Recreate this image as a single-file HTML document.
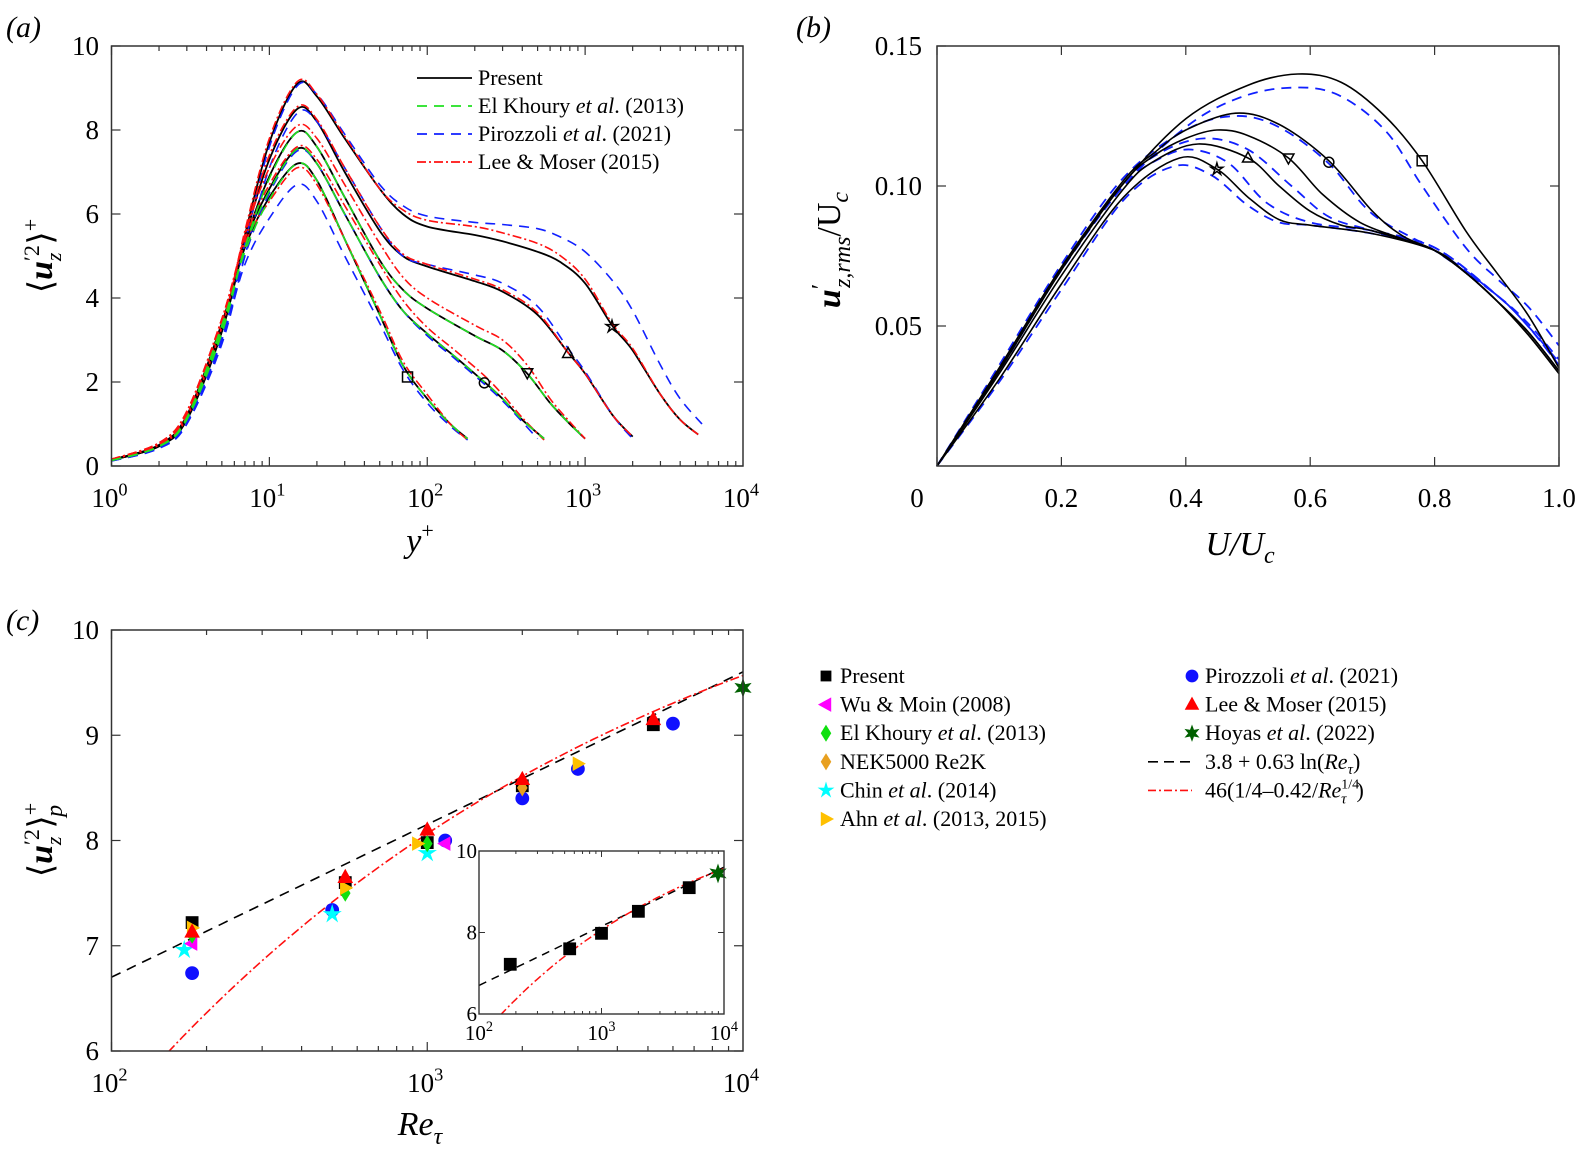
<!DOCTYPE html>
<html><head><meta charset="utf-8"><style>
html,body{margin:0;padding:0;background:#fff;}
svg{display:block;font-family:"Liberation Serif",serif;}
</style></head><body>
<svg id="fig" width="1581" height="1155" viewBox="0 0 1581 1155" xmlns="http://www.w3.org/2000/svg">
<g id="pa"></g>
<g id="pb"></g>
<g id="pc"></g>
<g id="leg"></g>
</svg>
<script>
// ---------------- Panel (a) data ----------------
const aInnerX = [1,2,3,5,7,10,15,20,30,50,70,100];
const aP180 = [0.15,0.5,1.2,3.4,5.2,6.4,7.2,6.8,5.4,3.6,2.4,1.6];
const aP180oX = [140,180], aP180oY = [1.0,0.65];
const aP550 = [0.15,0.5,1.2,3.3,5.3,6.6,7.55,7.2,6.0,4.5,3.7,3.15];
const aP550oX = [150,230,300,400,550], aP550oY = [2.6,2.0,1.6,1.1,0.65];
const aP1000 = [0.14,0.48,1.15,3.2,5.3,6.9,7.95,7.6,6.4,4.9,4.2,3.75];
const aP1000oX = [200,300,430,600,800,1000], aP1000oY = [3.1,2.75,2.2,1.5,1.0,0.65];
const aP2000 = [0.14,0.47,1.1,3.2,5.4,7.3,8.5,8.2,7.0,5.6,5.0,4.75];
const aP2000oX = [200,300,500,780,1000,1500,2000], aP2000oY = [4.4,4.15,3.6,2.7,2.2,1.2,0.7];
const aP5200 = [0.14,0.47,1.1,3.2,5.5,7.7,9.1,8.8,7.8,6.6,6.0,5.7];
const aP5200oX = [200,300,500,700,1000,1480,2000,3000,4000,5200], aP5200oY = [5.5,5.35,5.1,4.85,4.35,3.35,2.75,1.7,1.1,0.75];

const aR180 = [0.16,0.55,1.3,3.5,5.3,6.3,7.1,6.7,5.4,3.7,2.5,1.7];
const aR180oX = [140,180], aR180oY = [1.0,0.62];
const aR550 = [0.16,0.55,1.3,3.5,5.4,6.7,7.6,7.3,6.2,4.8,3.95,3.3];
const aR550oX = [150,230,300,400,550], aR550oY = [2.75,2.15,1.7,1.15,0.62];
const aR1000 = [0.16,0.55,1.25,3.4,5.5,7.1,8.1,7.8,6.7,5.3,4.5,4.0];
const aR1000oX = [200,300,430,600,800,1000], aR1000oY = [3.35,3.0,2.4,1.6,1.05,0.65];
const aR2000 = [0.15,0.52,1.2,3.3,5.5,7.4,8.55,8.25,7.1,5.7,5.05,4.8];
const aR2000oX = [200,300,500,780,1000,1500,2000], aR2000oY = [4.45,4.2,3.65,2.7,2.2,1.2,0.7];
const aR5200 = [0.15,0.5,1.15,3.3,5.6,7.8,9.15,8.85,7.85,6.6,6.1,5.85];
const aR5200oX = [200,300,500,700,1000,1480,2000,3000,4000,5200], aR5200oY = [5.7,5.55,5.3,5.0,4.45,3.4,2.8,1.7,1.1,0.75];

const aB180 = [0.13,0.45,1.05,3.0,4.8,5.9,6.7,6.3,5.0,3.4,2.3,1.5];
const aB180oX = [140,180], aB180oY = [0.95,0.62];
const aB500 = [0.13,0.45,1.05,3.1,5.0,6.5,7.5,7.2,6.0,4.5,3.7,3.1];
const aB500oX = [150,230,300,400,500], aB500oY = [2.55,1.95,1.55,1.05,0.65];
const aB2000 = [0.12,0.42,1.0,2.9,5.0,7.1,8.4,8.2,7.1,5.7,5.0,4.8];
const aB2000oX = [200,300,500,780,1000,1500,2000], aB2000oY = [4.55,4.35,3.8,2.8,2.25,1.2,0.65];
const aB6000 = [0.12,0.42,1.0,3.0,5.3,7.6,9.05,8.85,7.9,6.7,6.2,5.95];
const aB6000oX = [200,300,500,700,1000,1500,2000,3000,4000,5500], aB6000oY = [5.8,5.75,5.65,5.45,5.1,4.4,3.7,2.4,1.6,1.0];

const aG180 = [0.13,0.47,1.15,3.35,5.1,6.35,7.2,6.8,5.4,3.6,2.4,1.6];
const aG550 = [0.13,0.47,1.15,3.25,5.2,6.55,7.55,7.2,6.0,4.5,3.7,3.15];
const aG1000 = [0.13,0.46,1.1,3.15,5.2,6.85,7.95,7.6,6.4,4.9,4.2,3.75];

const aMarkX = [75,230,430,780,1480];
const aMarkY = [2.12,1.98,2.22,2.68,3.32];
const aMarkType = ['square','circle','tridown','triup','star'];
const aXTicks = [1,10,100,1000,10000];
const aYTicks = [0,2,4,6,8,10];

// ---------------- Panel (b) data ----------------
const bK180x = [0,0.1,0.2,0.3,0.4,0.5,0.58,0.65,0.72,0.78,0.85,0.9,0.95,1.0];
const bK180y = [0,0.035,0.071,0.101,0.124,0.136,0.140,0.137,0.125,0.109,0.084,0.069,0.054,0.035];
const bK550x = [0,0.1,0.2,0.3,0.35,0.4,0.48,0.55,0.63,0.7,0.75,0.8,0.85,0.9,0.95,1.0];
const bK550y = [0,0.035,0.071,0.102,0.112,0.120,0.126,0.122,0.109,0.091,0.082,0.077,0.069,0.059,0.048,0.034];
const bK1000x = [0,0.1,0.2,0.3,0.35,0.4,0.45,0.5,0.565,0.62,0.68,0.75,0.8,0.85,0.9,0.95,1.0];
const bK1000y = [0,0.034,0.070,0.101,0.111,0.117,0.120,0.118,0.110,0.097,0.087,0.081,0.077,0.069,0.059,0.048,0.034];
const bK2000x = [0,0.1,0.2,0.3,0.35,0.42,0.5,0.55,0.6,0.65,0.7,0.8,0.85,0.9,0.95,1.0];
const bK2000y = [0,0.033,0.068,0.099,0.109,0.115,0.110,0.100,0.091,0.086,0.084,0.077,0.069,0.059,0.047,0.033];
const bK5200x = [0,0.1,0.2,0.3,0.39,0.45,0.5,0.55,0.6,0.7,0.8,0.85,0.9,0.95,1.0];
const bK5200y = [0,0.031,0.065,0.096,0.110,0.106,0.096,0.088,0.086,0.083,0.077,0.069,0.059,0.047,0.033];

const bB180x = [0,0.1,0.2,0.3,0.4,0.48,0.56,0.64,0.72,0.78,0.85,0.9,0.95,1.0];
const bB180y = [0,0.034,0.070,0.100,0.121,0.131,0.135,0.133,0.120,0.100,0.078,0.067,0.057,0.043];
const bB550x = [0,0.1,0.2,0.3,0.4,0.48,0.55,0.63,0.7,0.8,0.9,0.95,1.0];
const bB550y = [0,0.036,0.072,0.103,0.120,0.125,0.121,0.108,0.090,0.077,0.061,0.051,0.038];
const bB1000x = [0,0.1,0.2,0.3,0.36,0.43,0.5,0.57,0.63,0.7,0.8,0.9,0.95,1.0];
const bB1000y = [0,0.035,0.071,0.101,0.112,0.117,0.113,0.100,0.089,0.084,0.077,0.061,0.050,0.037];
const bB2000x = [0,0.1,0.2,0.3,0.36,0.41,0.47,0.53,0.6,0.7,0.8,0.9,0.95,1.0];
const bB2000y = [0,0.034,0.070,0.100,0.110,0.113,0.108,0.094,0.087,0.084,0.078,0.061,0.050,0.036];
const bB6000x = [0,0.1,0.2,0.3,0.38,0.44,0.5,0.55,0.6,0.7,0.8,0.9,0.95,1.0];
const bB6000y = [0,0.030,0.063,0.095,0.107,0.104,0.093,0.087,0.086,0.083,0.078,0.061,0.050,0.036];

const bMarkX = [0.78,0.63,0.565,0.50,0.45];
const bMarkY = [0.109,0.1085,0.110,0.110,0.106];
const bXTicks = [0,0.2,0.4,0.6,0.8,1.0];
const bXLabels = ['0','0.2','0.4','0.6','0.8','1.0'];
const bYTicks = [0.05,0.10,0.15];
const bYLabels = ['0.05','0.10','0.15'];

// ---------------- Panel (c) data ----------------
const cPresentX = [180,550,1000,2000,5200];
const cPresentY = [7.22,7.6,7.98,8.52,9.1];
const cWuX = [180,1140], cWuY = [7.02,7.97];
const cElkX = [180,550,1000], cElkY = [7.1,7.5,7.97];
const cNekX = [2000], cNekY = [8.5];
const cChinX = [170,500,1000], cChinY = [6.96,7.3,7.88];
const cAhnX = [180,550,930,3000], cAhnY = [7.17,7.55,7.97,8.73];
const cPirX = [180,500,1140,2000,3000,6000], cPirY = [6.74,7.34,8.0,8.4,8.68,9.11];
const cLeeX = [180,550,1000,2000,5200], cLeeY = [7.13,7.65,8.1,8.58,9.15];
const cHoyX = [10000], cHoyY = [9.45];
const cLogFit = [3.8,0.63];          // a + b ln(Re)
const cPowFit = [46,0.25,0.42,0.25]; // A(c - d/Re^e)
const cXTicks = [100,1000,10000];
const cYTicks = [6,7,8,9,10];
const cInsetYTicks = [6,8,10];

// ---------------- helpers ----------------
const NS='http://www.w3.org/2000/svg';
function el(parent,tag,attrs){const e=document.createElementNS(NS,tag);for(const k in attrs)e.setAttribute(k,attrs[k]);parent.appendChild(e);return e;}
function smoothPath(pts){
  if(pts.length<2)return '';
  let d='M'+pts[0][0].toFixed(1)+' '+pts[0][1].toFixed(1);
  for(let i=0;i<pts.length-1;i++){
    const p0=pts[i-1]||pts[i],p1=pts[i],p2=pts[i+1],p3=pts[i+2]||p2;
    const c1=[p1[0]+(p2[0]-p0[0])/6,p1[1]+(p2[1]-p0[1])/6];
    const c2=[p2[0]-(p3[0]-p1[0])/6,p2[1]-(p3[1]-p1[1])/6];
    d+=' C'+c1[0].toFixed(1)+' '+c1[1].toFixed(1)+' '+c2[0].toFixed(1)+' '+c2[1].toFixed(1)+' '+p2[0].toFixed(1)+' '+p2[1].toFixed(1);
  }
  return d;
}
function marker(g,type,x,y,s,fill,stroke){
  let e;
  if(type==='square'){e=el(g,'rect',{x:x-s,y:y-s,width:2*s,height:2*s});}
  else if(type==='circle'){e=el(g,'circle',{cx:x,cy:y,r:s});}
  else if(type==='triup'){e=el(g,'polygon',{points:`${x},${y-s*1.2} ${x-s*1.1},${y+s*0.8} ${x+s*1.1},${y+s*0.8}`});}
  else if(type==='tridown'){e=el(g,'polygon',{points:`${x},${y+s*1.2} ${x-s*1.1},${y-s*0.8} ${x+s*1.1},${y-s*0.8}`});}
  else if(type==='trileft'){e=el(g,'polygon',{points:`${x-s*1.2},${y} ${x+s*0.8},${y-s*1.1} ${x+s*0.8},${y+s*1.1}`});}
  else if(type==='triright'){e=el(g,'polygon',{points:`${x+s*1.2},${y} ${x-s*0.8},${y-s*1.1} ${x-s*0.8},${y+s*1.1}`});}
  else if(type==='diamond'){e=el(g,'polygon',{points:`${x},${y-s*1.3} ${x+s*0.8},${y} ${x},${y+s*1.3} ${x-s*0.8},${y}`});}
  else if(type==='star'||type==='hexstar'){
    const n=type==='star'?5:6,pts=[];
    for(let i=0;i<2*n;i++){const r=i%2?s*(n===5?0.45:0.55):s*1.25;const a=-Math.PI/2+i*Math.PI/n;pts.push((x+r*Math.cos(a)).toFixed(1)+','+(y+r*Math.sin(a)).toFixed(1));}
    e=el(g,'polygon',{points:pts.join(' ')});
  }
  e.setAttribute('fill',fill);e.setAttribute('stroke',stroke);e.setAttribute('stroke-width',fill==='none'?1.5:0.8);
  return e;
}
function txt(g,x,y,s,size,anchor,style){const t=el(g,'text',{x:x,y:y,'font-size':size,'text-anchor':anchor||'middle'});if(style)t.setAttribute('font-style',style);t.textContent=s;return t;}
function pow10(g,x,y,exp,size,name){
  const t=el(g,'text',{x:x,y:y,'font-size':size,'text-anchor':'middle'});
  
  
  const a=el(t,'tspan',{});a.textContent='10';
  const b=el(t,'tspan',{dy:-size*0.42,'font-size':size*0.68});b.textContent=exp;
}

// ================= Panel (a) =================
(function(){
  const g=document.getElementById('pa');
  const L=111.5,R=743,T=46,B=466;
  const X=v=>L+(Math.log10(v))*(R-L)/4;
  const Y=v=>B-v*(B-T)/10;
  const clip=el(g,'clipPath',{id:'clipA'});el(clip,'rect',{x:L,y:T,width:R-L,height:B-T});
  const curves=el(g,'g',{'clip-path':'url(#clipA)'});
  function draw(inner,ox,oy,col,dash,name,w){
    const pts=[];
    aInnerX.forEach((x,i)=>pts.push([X(x),Y(inner[i])]));
    ox.forEach((x,i)=>pts.push([X(x),Y(oy[i])]));
    const p=el(curves,'path',{d:smoothPath(pts),fill:'none',stroke:col,'stroke-width':w||1.8});
    if(dash)p.setAttribute('stroke-dasharray',dash);
    
    
  }
  draw(aP180,aP180oX,aP180oY,'#000','','present-re180',1.8);
  draw(aP550,aP550oX,aP550oY,'#000','','present-re550',1.8);
  draw(aP1000,aP1000oX,aP1000oY,'#000','','present-re1000',1.8);
  draw(aP2000,aP2000oX,aP2000oY,'#000','','present-re2000',1.8);
  draw(aP5200,aP5200oX,aP5200oY,'#000','','present-re5200',1.8);
  draw(aB180,aB180oX,aB180oY,'#1020ff','10,7','pirozzoli-re180',1.6);
  draw(aB500,aB500oX,aB500oY,'#1020ff','10,7','pirozzoli-re500',1.6);
  draw(aB2000,aB2000oX,aB2000oY,'#1020ff','10,7','pirozzoli-re2000',1.6);
  draw(aB6000,aB6000oX,aB6000oY,'#1020ff','10,7','pirozzoli-re6000',1.6);
  draw(aR180,aR180oX,aR180oY,'#ff1010','9,3,2,3','lee-moser-re180',1.6);
  draw(aR550,aR550oX,aR550oY,'#ff1010','9,3,2,3','lee-moser-re550',1.6);
  draw(aR1000,aR1000oX,aR1000oY,'#ff1010','9,3,2,3','lee-moser-re1000',1.6);
  draw(aR2000,aR2000oX,aR2000oY,'#ff1010','9,3,2,3','lee-moser-re2000',1.6);
  draw(aR5200,aR5200oX,aR5200oY,'#ff1010','9,3,2,3','lee-moser-re5200',1.6);
  draw(aG180,aP180oX,aP180oY,'#20e020','10,7','el-khoury-re180',1.6);
  draw(aG550,aP550oX,aP550oY,'#20e020','10,7','el-khoury-re550',1.6);
  draw(aG1000,aP1000oX,aP1000oY,'#20e020','10,7','el-khoury-re1000',1.6);
  aMarkX.forEach((x,i)=>{
    const m=marker(g,aMarkType[i],X(x),Y(aMarkY[i]),5,'none','#000');
    
    
  });
  // axes box
  const box=el(g,'rect',{x:L,y:T,width:R-L,height:B-T,fill:'none',stroke:'#333','stroke-width':1.5});
  
  
  // ticks
  for(let d=0;d<4;d++){for(let k=1;k<=9;k++){const v=Math.pow(10,d)*k;const x=X(v);const len=k===1?9:5;
    el(g,'line',{x1:x,y1:B,x2:x,y2:B-len,stroke:'#333','stroke-width':1.2});
    el(g,'line',{x1:x,y1:T,x2:x,y2:T+len,stroke:'#333','stroke-width':1.2});}}
  aXTicks.forEach((v,i)=>pow10(g,X(v)-2,507,String(i),27,'x-tick-label-a'));
  aYTicks.forEach(v=>{const y=Y(v);
    el(g,'line',{x1:L,y1:y,x2:L+9,y2:y,stroke:'#333','stroke-width':1.2});
    el(g,'line',{x1:R,y1:y,x2:R-9,y2:y,stroke:'#333','stroke-width':1.2});
    const t=txt(g,99,y+9,String(v),27,'end');
    
    });
  // axis labels
  const xl=el(g,'text',{x:420,y:552,'font-size':34,'text-anchor':'middle','font-style':'italic'});
  
  
  el(xl,'tspan',{}).textContent='y';
  el(xl,'tspan',{dy:-14,'font-size':22,'font-style':'normal'}).textContent='+';
  const yl=el(g,'text',{x:0,y:0,'font-size':34,'text-anchor':'middle',transform:'translate(52,256) rotate(-90)'});
  
  
  el(yl,'tspan',{}).textContent='⟨';
  el(yl,'tspan',{'font-style':'italic','font-weight':'bold'}).textContent='u';
  el(yl,'tspan',{dy:-13,'font-size':22}).textContent='′2';
  el(yl,'tspan',{dx:-16,dy:22,'font-size':22,'font-style':'italic'}).textContent='z';
  el(yl,'tspan',{dx:8,dy:-9}).textContent='⟩';
  el(yl,'tspan',{dy:-14,'font-size':22}).textContent='+';
  const pl=txt(g,6,37,'(a)',30,'start','italic');
  
  
  // legend
  const lg=el(g,'g',{});
  
  
  const entries=[['Present','#000',''],['El Khoury et al. (2013)','#20e020','10,7'],['Pirozzoli et al. (2021)','#1020ff','10,7'],['Lee & Moser (2015)','#ff1010','9,3,2,3']];
  entries.forEach((e,i)=>{const y=78+i*28;
    const ln=el(lg,'line',{x1:417,y1:y,x2:472,y2:y,stroke:e[1],'stroke-width':1.8});
    if(e[2])ln.setAttribute('stroke-dasharray',e[2]);
    const t=el(lg,'text',{x:478,y:y+7,'font-size':22});
    
    
    const m=e[0].match(/^(.*?)(et al\.)(.*)$/);
    if(m){el(t,'tspan',{}).textContent=m[1];el(t,'tspan',{'font-style':'italic'}).textContent='et al';el(t,'tspan',{}).textContent='.'+m[3];}
    else t.textContent=e[0];
  });
})();

// ================= Panel (b) =================
(function(){
  const g=document.getElementById('pb');
  const L=937,R=1559,T=46,B=466;
  const X=v=>L+v*(R-L);
  const Y=v=>B-v*(B-T)/0.15;
  function draw(xs,ys,col,dash,name){
    const pts=xs.map((x,i)=>[X(x),Y(ys[i])]);
    const p=el(g,'path',{d:smoothPath(pts),fill:'none',stroke:col,'stroke-width':col==='#000'?1.6:1.8});
    if(dash)p.setAttribute('stroke-dasharray',dash);
    
    
  }
  draw(bB180x,bB180y,'#1020ff','10,7','pirozzoli-b-re180');
  draw(bB550x,bB550y,'#1020ff','10,7','pirozzoli-b-re550');
  draw(bB1000x,bB1000y,'#1020ff','10,7','pirozzoli-b-re1000');
  draw(bB2000x,bB2000y,'#1020ff','10,7','pirozzoli-b-re2000');
  draw(bB6000x,bB6000y,'#1020ff','10,7','pirozzoli-b-re6000');
  draw(bK180x,bK180y,'#000','','present-b-re180');
  draw(bK550x,bK550y,'#000','','present-b-re550');
  draw(bK1000x,bK1000y,'#000','','present-b-re1000');
  draw(bK2000x,bK2000y,'#000','','present-b-re2000');
  draw(bK5200x,bK5200y,'#000','','present-b-re5200');
  bMarkX.forEach((x,i)=>{
    const m=marker(g,aMarkType[i],X(x),Y(bMarkY[i]),5,'none','#000');
    
    
  });
  const box=el(g,'rect',{x:L,y:T,width:R-L,height:B-T,fill:'none',stroke:'#333','stroke-width':1.5});
  
  
  bXTicks.forEach((v,i)=>{const x=X(v);
    el(g,'line',{x1:x,y1:B,x2:x,y2:B-9,stroke:'#333','stroke-width':1.2});
    el(g,'line',{x1:x,y1:T,x2:x,y2:T+9,stroke:'#333','stroke-width':1.2});
    const t=txt(g,i===0?x-20:x,507,bXLabels[i],27,'middle');
    
    });
  bYTicks.forEach((v,i)=>{const y=Y(v);
    el(g,'line',{x1:L,y1:y,x2:L+9,y2:y,stroke:'#333','stroke-width':1.2});
    el(g,'line',{x1:R,y1:y,x2:R-9,y2:y,stroke:'#333','stroke-width':1.2});
    const t=txt(g,922,y+9,bYLabels[i],27,'end');
    
    });
  const xl=el(g,'text',{x:1240,y:555,'font-size':34,'text-anchor':'middle','font-style':'italic'});
  
  
  el(xl,'tspan',{}).textContent='U/U';
  el(xl,'tspan',{dy:8,'font-size':24}).textContent='c';
  const yl=el(g,'text',{x:0,y:0,'font-size':34,'text-anchor':'middle','font-style':'italic',transform:'translate(840,250) rotate(-90)'});
  
  
  el(yl,'tspan',{'font-weight':'bold'}).textContent='u';
  el(yl,'tspan',{'font-style':'normal','font-size':24,dy:-12}).textContent='′';
  el(yl,'tspan',{'font-size':24,dy:22,dx:-4}).textContent='z,rms';
  el(yl,'tspan',{dy:-10,'font-style':'normal'}).textContent='/U';
  el(yl,'tspan',{'font-size':24,dy:8}).textContent='c';
  const pl=txt(g,796,37,'(b)',30,'start','italic');
  
  
})();

// ================= Panel (c) =================
function logFit(r){return cLogFit[0]+cLogFit[1]*Math.log(r);}
function powFit(r){return cPowFit[0]*(cPowFit[1]-cPowFit[2]/Math.pow(r,cPowFit[3]));}
(function(){
  const g=document.getElementById('pc');
  const L=111.5,R=743,T=630,B=1051;
  const X=v=>L+(Math.log10(v)-2)*(R-L)/2;
  const Y=v=>B-(v-6)*(B-T)/4;
  const clip=el(g,'clipPath',{id:'clipC'});el(clip,'rect',{x:L,y:T,width:R-L,height:B-T});
  const lines=el(g,'g',{'clip-path':'url(#clipC)'});
  function fitPath(f,X,Y,x0,x1){const pts=[];for(let i=0;i<=80;i++){const r=Math.pow(10,x0+(x1-x0)*i/80);pts.push([X(r),Y(f(r))]);}return 'M'+pts.map(p=>p[0].toFixed(1)+' '+p[1].toFixed(1)).join(' L');}
  const l1=el(lines,'path',{d:fitPath(logFit,X,Y,2,4),fill:'none',stroke:'#000','stroke-width':1.6,'stroke-dasharray':'10,7'});
  
  
  const l2=el(lines,'path',{d:fitPath(powFit,X,Y,2,4),fill:'none',stroke:'#ff1010','stroke-width':1.6,'stroke-dasharray':'9,3,2,3'});
  
  
  function pts(xs,ys,type,fill,name,s){xs.forEach((x,i)=>{const m=marker(g,type,X(x),Y(ys[i]),s||6,fill,fill);
    
    });}
  pts(cPirX,cPirY,'circle','#1010ff','pirozzoli-point',6.5);
  pts(cPresentX,cPresentY,'square','#000','present-point',6);
  pts(cChinX,cChinY,'star','#00ffff','chin-point',7);
  pts(cWuX,cWuY,'trileft','#ff00ff','wu-moin-point',6);
  pts(cElkX,cElkY,'diamond','#10e010','el-khoury-point',6);
  pts(cNekX,cNekY,'diamond','#e8a020','nek5000-point',6);
  pts(cAhnX,cAhnY,'triright','#ffc000','ahn-point',6);
  pts(cLeeX,cLeeY,'triup','#ff0000','lee-moser-point',6.5);
  pts(cHoyX,cHoyY,'hexstar','#006000','hoyas-point',7);
  const box=el(g,'rect',{x:L,y:T,width:R-L,height:B-T,fill:'none',stroke:'#333','stroke-width':1.5});
  
  
  for(let d=2;d<4;d++){for(let k=1;k<=9;k++){const x=X(Math.pow(10,d)*k);const len=k===1?9:5;
    el(g,'line',{x1:x,y1:B,x2:x,y2:B-len,stroke:'#333','stroke-width':1.2});
    el(g,'line',{x1:x,y1:T,x2:x,y2:T+len,stroke:'#333','stroke-width':1.2});}}
  cXTicks.forEach((v,i)=>pow10(g,X(v)-2,1092,String(i+2),27,'x-tick-label-c'));
  cYTicks.forEach(v=>{const y=Y(v);
    el(g,'line',{x1:L,y1:y,x2:L+9,y2:y,stroke:'#333','stroke-width':1.2});
    el(g,'line',{x1:R,y1:y,x2:R-9,y2:y,stroke:'#333','stroke-width':1.2});
    const t=txt(g,99,y+9,String(v),27,'end');
    
    });
  const xl=el(g,'text',{x:420,y:1135,'font-size':34,'text-anchor':'middle','font-style':'italic'});
  
  
  el(xl,'tspan',{}).textContent='Re';
  el(xl,'tspan',{dy:9,'font-size':24}).textContent='τ';
  const yl=el(g,'text',{x:0,y:0,'font-size':34,'text-anchor':'middle',transform:'translate(52,840) rotate(-90)'});
  
  
  el(yl,'tspan',{}).textContent='⟨';
  el(yl,'tspan',{'font-style':'italic','font-weight':'bold'}).textContent='u';
  el(yl,'tspan',{dy:-13,'font-size':22}).textContent='′2';
  el(yl,'tspan',{dx:-16,dy:22,'font-size':22,'font-style':'italic'}).textContent='z';
  el(yl,'tspan',{dx:8,dy:-9}).textContent='⟩';
  el(yl,'tspan',{dy:-14,'font-size':22}).textContent='+';
  el(yl,'tspan',{dx:-14,dy:24,'font-size':24,'font-style':'italic'}).textContent='p';
  const pl=txt(g,6,630,'(c)',30,'start','italic');
  
  

  // inset
  const iL=479,iR=724,iT=851,iB=1014;
  const iX=v=>iL+(Math.log10(v)-2)*(iR-iL)/2;
  const iY=v=>iB-(v-6)*(iB-iT)/4;
  const ig=el(g,'g',{});
  
  
  el(ig,'rect',{x:iL,y:iT,width:iR-iL,height:iB-iT,fill:'#fff',stroke:'none'});
  const ic=el(ig,'clipPath',{id:'clipI'});el(ic,'rect',{x:iL,y:iT,width:iR-iL,height:iB-iT});
  const il=el(ig,'g',{'clip-path':'url(#clipI)'});
  const a1=el(il,'path',{d:fitPath(logFit,iX,iY,2,4),fill:'none',stroke:'#000','stroke-width':1.5,'stroke-dasharray':'8,6'});
  
  
  const a2=el(il,'path',{d:fitPath(powFit,iX,iY,2,4),fill:'none',stroke:'#ff1010','stroke-width':1.5,'stroke-dasharray':'8,3,2,3'});
  
  
  cPresentX.forEach((x,i)=>{const m=marker(ig,'square',iX(x),iY(cPresentY[i]),6,'#000','#000');
    
    });
  cHoyX.forEach((x,i)=>{const m=marker(ig,'hexstar',iX(x)-6,iY(cHoyY[i]),7,'#006000','#006000');
    
    });
  el(ig,'rect',{x:iL,y:iT,width:iR-iL,height:iB-iT,fill:'none',stroke:'#333','stroke-width':1.4});
  for(let d=2;d<4;d++){for(let k=1;k<=9;k++){const x=iX(Math.pow(10,d)*k);const len=k===1?6:3;
    el(ig,'line',{x1:x,y1:iB,x2:x,y2:iB-len,stroke:'#333','stroke-width':1});
    el(ig,'line',{x1:x,y1:iT,x2:x,y2:iT+len,stroke:'#333','stroke-width':1});}}
  cXTicks.forEach((v,i)=>pow10(ig,iX(v),1040,String(i+2),21,'inset-x-tick-label'));
  cInsetYTicks.forEach(v=>{const y=iY(v);
    el(ig,'line',{x1:iL,y1:y,x2:iL+6,y2:y,stroke:'#333','stroke-width':1});
    el(ig,'line',{x1:iR,y1:y,x2:iR-6,y2:y,stroke:'#333','stroke-width':1});
    const t=txt(ig,iL-2,y+7,String(v),21,'end');
    
    });
})();

// ================= Legend (c) =================
(function(){
  const g=document.getElementById('leg');
  const left=[['square','#000','Present'],['trileft','#ff00ff','Wu & Moin (2008)'],['diamond','#10e010','El Khoury et al. (2013)'],['diamond','#e8a020','NEK5000 Re2K'],['star','#00ffff','Chin et al. (2014)'],['triright','#ffc000','Ahn et al. (2013, 2015)']];
  function label(x,y,s){const t=el(g,'text',{x:x,y:y,'font-size':22});
    
    
    const m=s.match(/^(.*?)(et al\.)(.*)$/);
    if(m){el(t,'tspan',{}).textContent=m[1];el(t,'tspan',{'font-style':'italic'}).textContent='et al';el(t,'tspan',{}).textContent='.'+m[3];}
    else t.textContent=s;return t;}
  left.forEach((e,i)=>{const y=676+i*28.6;
    const m=marker(g,e[0],826,y,e[0]==='square'?5:6,e[1],e[1]);
    
    
    label(840,y+7,e[2]);});
  const right=[['circle','#1010ff','Pirozzoli et al. (2021)'],['triup','#ff0000','Lee & Moser (2015)'],['hexstar','#006000','Hoyas et al. (2022)']];
  right.forEach((e,i)=>{const y=676+i*28.6;
    const m=marker(g,e[0],1192,y,6,e[1],e[1]);
    
    
    label(1205,y+7,e[2]);});
  let y=676+3*28.6;
  el(g,'line',{x1:1148,y1:y,x2:1192,y2:y,stroke:'#000','stroke-width':1.6,'stroke-dasharray':'10,6'});
  const t1=el(g,'text',{x:1205,y:y+7,'font-size':22});
  
  
  el(t1,'tspan',{}).textContent='3.8 + 0.63 ln(';
  el(t1,'tspan',{'font-style':'italic'}).textContent='Re';
  el(t1,'tspan',{'font-style':'italic','font-size':15,dy:5}).textContent='τ';
  el(t1,'tspan',{dy:-5}).textContent=')';
  y=676+4*28.6;
  el(g,'line',{x1:1148,y1:y,x2:1192,y2:y,stroke:'#ff1010','stroke-width':1.6,'stroke-dasharray':'8,3,2,3'});
  const t2=el(g,'text',{x:1205,y:y+7,'font-size':22});
  
  
  el(t2,'tspan',{}).textContent='46(1/4–0.42/';
  el(t2,'tspan',{'font-style':'italic'}).textContent='Re';
  el(t2,'tspan',{'font-size':14,dy:-9}).textContent='1/4';
  el(t2,'tspan',{'font-style':'italic','font-size':15,dx:-18,dy:15}).textContent='τ';
  el(t2,'tspan',{dx:10,dy:-6}).textContent=')';
})();
</script>
</body></html>
